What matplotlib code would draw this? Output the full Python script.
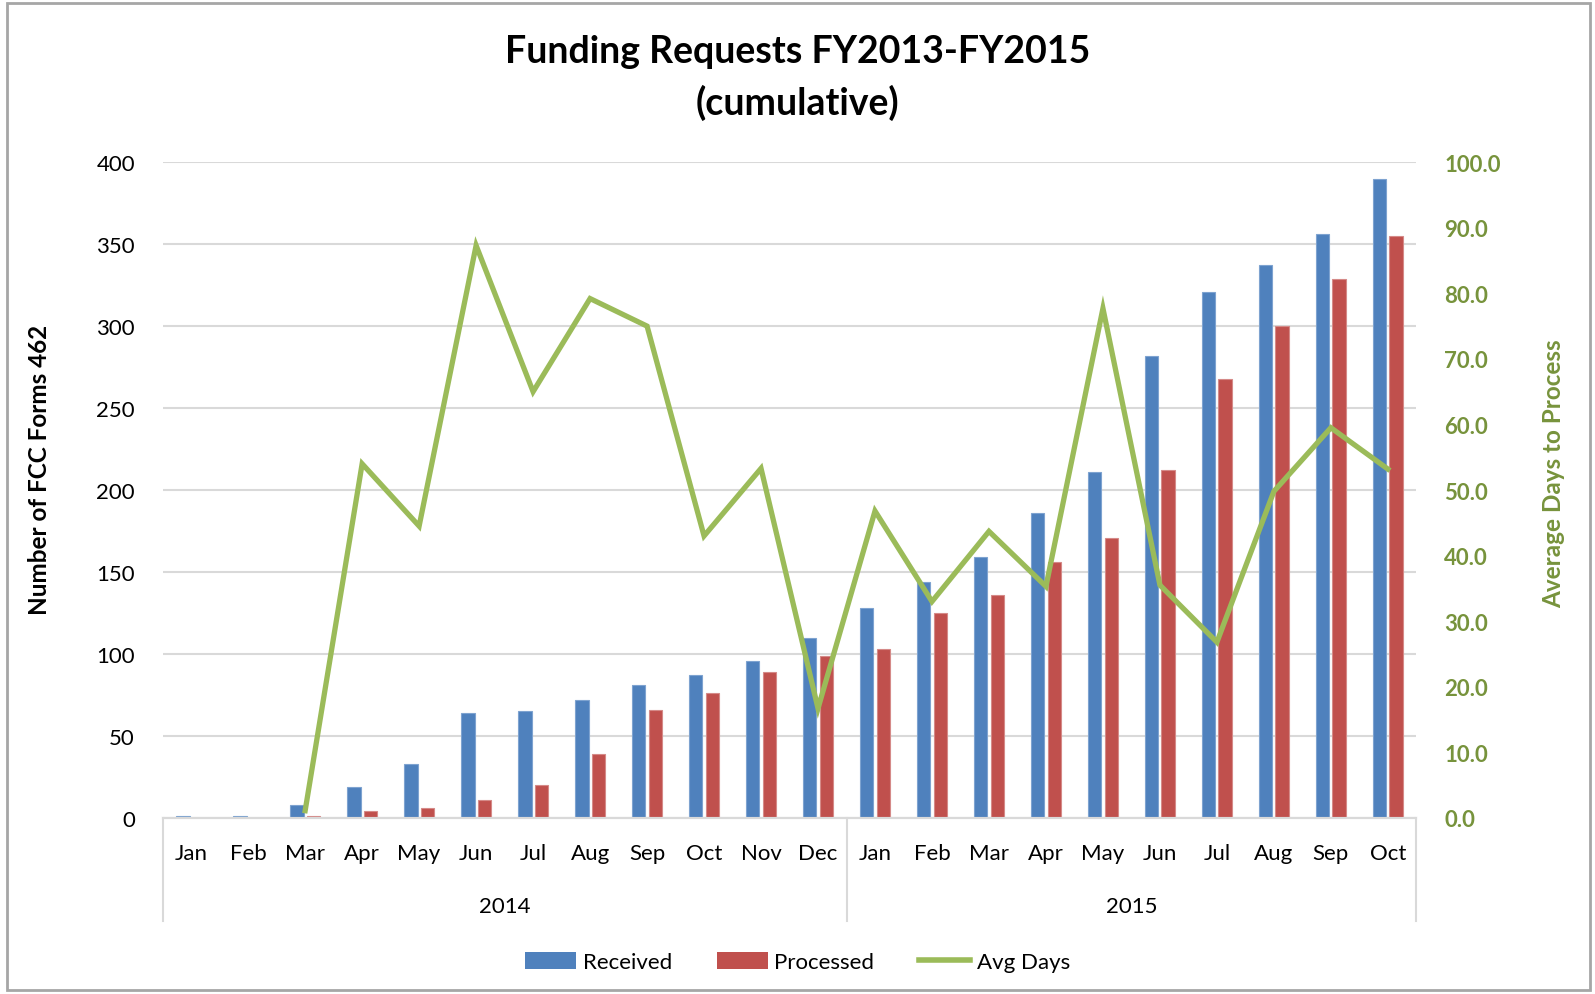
import numpy as np
import matplotlib
matplotlib.use("Agg")
import matplotlib.pyplot as plt
from matplotlib.patches import Rectangle, Patch
from matplotlib.lines import Line2D
import matplotlib.transforms as mtransforms

plt.rcParams["font.family"] = ["Lato", "DejaVu Sans"]

months = ["Jan", "Feb", "Mar", "Apr", "May", "Jun", "Jul", "Aug", "Sep", "Oct", "Nov", "Dec",
          "Jan", "Feb", "Mar", "Apr", "May", "Jun", "Jul", "Aug", "Sep", "Oct"]
years = ["2014", "2015"]
months_per_year = [12, 10]

received = [1, 1, 8, 19, 33, 64, 65, 72, 81, 87, 96, 110,
            128, 144, 159, 186, 211, 282, 321, 337, 356, 390]
processed = [0, 0, 1, 4, 6, 11, 20, 39, 66, 76, 89, 99,
             103, 125, 136, 156, 171, 212, 268, 300, 329, 355]
avg_days = [np.nan, np.nan, 1.1, 54.0, 44.5, 87.3, 65.0, 79.2, 75.0, 43.0, 53.3, 16.7,
            46.8, 33.0, 43.7, 35.3, 77.7, 35.5, 26.8, 49.8, 59.5, 53.2]

BLUE = "#4F81BD"
RED = "#C0504D"
GREEN = "#9BBB59"
DARK_GREEN = "#77933C"
GRID = "#D9D9D9"

fig = plt.figure(figsize=(15.95, 9.95), dpi=100)
ax = fig.add_axes([0.102, 0.177, 0.786, 0.659])
ax2 = ax.twinx()

x = np.arange(len(months))
w = 0.235
ax.bar(x - 0.145, received, w, color=BLUE, edgecolor="#7EA3D0", linewidth=0.8, zorder=2)
ax.bar(x + 0.145, processed, w, color=RED, edgecolor="#D58A88", linewidth=0.8, zorder=2)
ax2.plot(x, avg_days, color=GREEN, linewidth=3.8, solid_joinstyle="miter", zorder=3)

ax.set_xlim(-0.5, len(months) - 0.5)
ax.set_ylim(0, 400)
ax.set_yticks(np.arange(0, 401, 50))
ax2.set_ylim(0, 100)
ax2.set_yticks(np.arange(0, 101, 10))
ax2.set_yticklabels([f"{v:.1f}" for v in np.arange(0, 101, 10)])

ax.grid(axis="y", color=GRID, linewidth=1.5, zorder=0)
ax.set_axisbelow(True)
for a in (ax, ax2):
    for s in ("top", "left", "right"):
        a.spines[s].set_visible(False)
    a.spines["bottom"].set_color(GRID)
    a.spines["bottom"].set_linewidth(1.5)

ax.set_xticks(x)
ax.set_xticklabels(months)
ax.tick_params(axis="x", length=0, pad=18, labelsize=16)
ax.tick_params(axis="y", length=0, pad=20, labelsize=16)
ax2.tick_params(axis="y", length=0, pad=20, labelsize=16, labelcolor=DARK_GREEN)
for t in ax2.get_yticklabels():
    t.set_fontweight("bold")

ax.set_ylabel("Number of FCC Forms 462", fontsize=17.5, fontweight="bold")
ax.yaxis.set_label_coords(-0.089, 0.532)
ax2.set_ylabel("Average Days to Process", fontsize=17.5, fontweight="bold", color=DARK_GREEN)
ax2.yaxis.set_label_coords(1.100, 0.527)

# second level of the category axis: years with separators
trans = mtransforms.blended_transform_factory(ax.transData, ax.transAxes)
start = -0.5
bounds = [start]
for yr, n in zip(years, months_per_year):
    ax.text(start + n / 2, -0.135, yr, transform=trans, ha="center", va="center", fontsize=16)
    start += n
    bounds.append(start)
for b in bounds:
    ax.plot([b, b], [0, -0.157], transform=trans, color=GRID, linewidth=1.5, clip_on=False)

fig.text(0.5, 0.948, "Funding Requests FY2013-FY2015", ha="center", va="center",
         fontsize=27, fontweight="bold")
fig.text(0.5, 0.897, "(cumulative)", ha="center", va="center",
         fontsize=27, fontweight="bold")

handles = [Patch(facecolor=BLUE, label="Received"),
           Patch(facecolor=RED, label="Processed"),
           Line2D([0], [0], color=GREEN, linewidth=4, label="Avg Days")]
fig.legend(handles=handles, loc="center", bbox_to_anchor=(0.5, 0.032), ncol=3,
           frameon=False, fontsize=16, handlelength=2.3, handleheight=0.8,
           handletextpad=0.3, columnspacing=2.0)

fig.patches.append(Rectangle((0.0045, 0.004), 0.9925, 0.992, transform=fig.transFigure,
                             fill=False, edgecolor="#A6A6A6", linewidth=2))

fig.savefig("out.png", dpi=100)
